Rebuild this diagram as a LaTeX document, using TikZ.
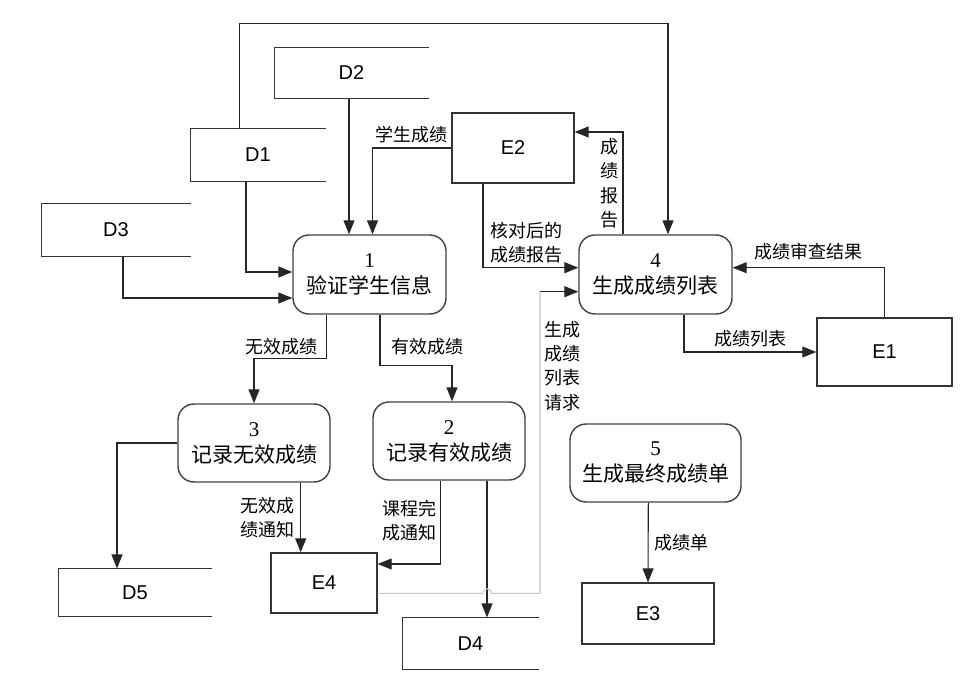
\documentclass[tikz,border=0pt]{standalone}
\usepackage{fontspec}
\setmainfont{Liberation Serif}
\setsansfont{Liberation Sans}
\newfontfamily\cjk{Noto Sans CJK SC}
\usetikzlibrary{arrows.meta}

\begin{document}
\begin{tikzpicture}[x=1pt,y=-1pt,>={Triangle[length=14pt,width=11pt]},
  line width=1.1pt,
  proc/.style={draw=black!75,line width=1.4pt,rounded corners=16pt,align=center,
    font=\fontsize{21}{26}\selectfont,inner sep=0pt},
  store/.style={font=\sffamily\fontsize{20}{24}\selectfont,inner sep=0pt},
  entity/.style={draw=black!80,line width=1.4pt,font=\sffamily\fontsize{20}{24}\selectfont,inner sep=0pt},
  flow/.style={->,draw=black!85},
  reqflow/.style={draw=black!22},
  lbl/.style={font=\cjk\fontsize{18}{24.3}\selectfont,align=center,inner sep=4pt}]
  \useasboundingbox (0,0) rectangle (963,676);

  % processes
  \node[proc,minimum width=153pt,minimum height=79pt] (P1) at (369.5,274.5) {1\\{\cjk 验证学生信息}};
  \node[proc,minimum width=152pt,minimum height=78pt] (P2) at (449,441)     {2\\{\cjk 记录有效成绩}};
  \node[proc,minimum width=152pt,minimum height=78pt] (P3) at (254,443)     {3\\{\cjk 记录无效成绩}};
  \node[proc,minimum width=153pt,minimum height=79pt] (P4) at (655.5,274.5) {4\\{\cjk 生成成绩列表}};
  \node[proc,minimum width=171pt,minimum height=78pt] (P5) at (655.5,463)   {5\\{\cjk 生成最终成绩单}};

  % external entities
  \node[entity,minimum width=135pt,minimum height=68pt] (E1) at (884.5,352) {E1};
  \node[entity,minimum width=122pt,minimum height=70pt] (E2) at (513,148)   {E2};
  \node[entity,minimum width=132pt,minimum height=61pt] (E3) at (648,613.5) {E3};
  \node[entity,minimum width=106pt,minimum height=60pt] (E4) at (324,583)   {E4};

  % data stores
  \node[store,minimum width=134pt,minimum height=52pt] (D1) at (258,155)     {D1};
  \node[store,minimum width=153pt,minimum height=50pt] (D2) at (351.5,73)    {D2};
  \node[store,minimum width=148pt,minimum height=52pt] (D3) at (116,230)     {D3};
  \node[store,minimum width=135pt,minimum height=51pt] (D4) at (470.5,643.5) {D4};
  \node[store,minimum width=152pt,minimum height=47pt] (D5) at (135,592.5)   {D5};
  \foreach \s in {D1,D2,D3,D4,D5}
    \draw[black!80,line width=1.4pt] (\s.north east) -| (\s.south west) -- (\s.south east);

  \draw[flow] ([xshift=-12pt]D1.south) |- ([yshift=2.5pt]P1.west);
  \draw[flow] ([xshift=7pt]D3.south) |- ([yshift=-23.5pt]P1.west);
  \draw[flow] ([xshift=-2.5pt]D2.south) -- ([xshift=-20.5pt]P1.north);
  \draw[flow] (E2.west) -| node[lbl,pos=0.25,above] {学生成绩} ([xshift=3pt]P1.north);
  \draw[flow] ([xshift=-18.7pt]D1.north) -- ++(0pt,105pt) -| ([xshift=12.5pt]P4.north);

  \draw[flow] ([xshift=-30pt]E2.south) |- node[lbl,pos=0.35,right,xshift=3pt] {核对后的\\成绩报告} ([yshift=6.8pt]P4.east -| P4.west);
  \draw[flow] ([xshift=-32.5pt]P4.north) |- node[lbl,pos=0.25,left] {成\\绩\\报\\告} ([yshift=16pt]E2.east);
  \draw[flow] (E1.north) |- node[lbl,pos=0.75,above,yshift=3pt] {成绩审查结果} ([yshift=6.8pt]P4.east);
  \draw[flow] ([xshift=28.5pt]P4.south) |- node[lbl,pos=0.75,above] {成绩列表} (E1.west);

  \draw[flow] ([xshift=-42.8pt]P1.south) -- node[lbl,pos=0.73,left,xshift=-5pt] {无效成绩} ++(0pt,-44pt) -| (P3.north);
  \draw[flow] ([xshift=10.5pt]P1.south) -- node[lbl,pos=0.63,right,xshift=7pt] {有效成绩} ++(0pt,-51pt) -| ([xshift=3pt]P2.north);

  \draw[flow] (P3.west) -| ([xshift=-18pt]D5.north);
  \draw[flow] ([xshift=46.7pt]P3.south) -- node[lbl,pos=0.5,left,xshift=-2pt] {无效成\\绩通知} ([xshift=-23.3pt]E4.north);
  \draw[flow] ([xshift=-8.3pt]P2.south) |- node[lbl,pos=0.24,left] {课程完\\成通知} ([yshift=19pt]E4.east);
  \draw[flow] ([xshift=38pt]P2.south) -- ([xshift=16.5pt]D4.north);
  \draw[flow] ([xshift=-7.2pt]P5.south) -- node[lbl,pos=0.5,right,xshift=2pt] {成绩单} (E3.north);

  % request line with a hop over the D4 flow
  \coordinate (hop) at (487,593.3);
  \coordinate (reqtop) at (540,291.7);
  \draw[reqflow] ([yshift=-10.3pt]E4.east) -- ([xshift=-4.5pt]hop)
    arc[start angle=180,end angle=0,radius=4.5pt] -- (reqtop |- hop)
    -- node[lbl,pos=0.754,right] {生成\\成绩\\列表\\请求} (reqtop);
  \draw[flow] (reqtop) -- ([yshift=-17.2pt]P4.west);
\end{tikzpicture}
\end{document}
